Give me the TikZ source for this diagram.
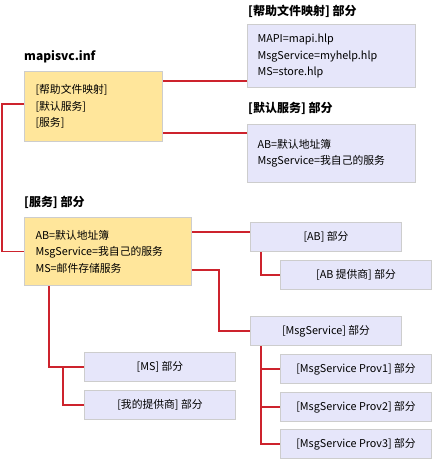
\documentclass[tikz,border=0pt]{standalone}
\usepackage{fontspec}
\setmainfont{Noto Sans CJK SC}
\usetikzlibrary{calc}
\definecolor{ybox}{RGB}{255,230,155}
\definecolor{bbox}{RGB}{230,230,250}
\definecolor{bord}{RGB}{205,205,205}
\definecolor{lnred}{RGB}{205,35,45}
\tikzset{
  body/.style={font=\fontsize{10.8}{16.5}\selectfont},
  ttl/.style={font=\fontsize{12}{14}\selectfont\bfseries, anchor=west, inner sep=0pt},
  ylw/.style={draw=bord, line width=1pt, fill=ybox, body, align=left, inner xsep=11pt, inner ysep=0pt, anchor=north west},
  blu/.style={draw=bord, line width=1pt, fill=bbox, body, align=left, inner xsep=10pt, inner ysep=0pt, anchor=north west},
  cbox/.style={draw=bord, line width=1pt, fill=bbox, body, align=center, inner sep=0pt, anchor=north west, minimum width=151pt, minimum height=29pt},
  conn/.style={draw=lnred, line width=1.3pt}
}
\begin{document}
\begin{tikzpicture}[x=1pt,y=-1pt]
\useasboundingbox (0,0) rectangle (432,459);
% titles
\node[ttl] (t1) at (24,57) {mapisvc.inf};
\node[ttl] (t2) at (248,11) {[帮助文件映射] 部分};
\node[ttl] (t3) at (248,108) {[默认服务] 部分};
\node[ttl] (t4) at (24,202) {[服务] 部分};
% boxes
\node[ylw, text width=116pt, minimum height=70pt] (m) at (24,71) {[帮助文件映射]\\{}[默认服务]\\{}[服务]};
\node[blu, text width=148pt, minimum height=63pt] (h) at (247,24) {MAPI=mapi.hlp\\MsgService=myhelp.hlp\\MS=store.hlp};
\node[blu, text width=148pt, minimum height=58pt] (d) at (247,124) {AB=默认地址簿\\MsgService=我自己的服务};
\node[ylw, text width=145pt, minimum height=68pt] (s) at (24,217) {AB=默认地址簿\\MsgService=我自己的服务\\MS=邮件存储服务};
\node[cbox] (ab) at (250,222) {[AB] 部分};
\node[cbox] (abp) at (280,260) {[AB 提供商] 部分};
\node[cbox] (msg) at (250,316) {[MsgService] 部分};
\node[cbox] (p1) at (280,354) {[MsgService Prov1] 部分};
\node[cbox] (p2) at (280,392) {[MsgService Prov2] 部分};
\node[cbox] (p3) at (280,429) {[MsgService Prov3] 部分};
\node[cbox] (ms) at (84,352) {[MS] 部分};
\node[cbox] (myp) at (84,390) {[我的提供商] 部分};
% connectors
\draw[conn] (m.east |- 0,81) -- (h.west |- 0,81);
\draw[conn] (m.east |- 0,133) -- (d.west |- 0,133);
\draw[conn] (m.west |- 0,104) -- (2,104) |- (s.west);
\draw[conn] (s.east |- 0,232) -- (ab.west |- 0,232);
\coordinate (sb) at (219,270);
\draw[conn] (s.east |- sb) -- (sb) |- (msg.west);
\coordinate (abd) at ($(ab.south west)+(11,0)$);
\draw[conn] (abd) |- (abp.west);
\coordinate (msd) at ($(msg.south west)+(11,0)$);
\draw[conn] (msd) |- (p3.west);
\draw[conn] (msd |- p1.west) -- (p1.west);
\draw[conn] (msd |- p2.west) -- (p2.west);
\coordinate (sd) at ($(s.south west)+(25,0)$);
\draw[conn] (sd) |- (ms.west);
\coordinate (sd2) at (63,0);
\draw[conn] (sd2 |- ms.west) |- (myp.west);
\end{tikzpicture}
\end{document}
